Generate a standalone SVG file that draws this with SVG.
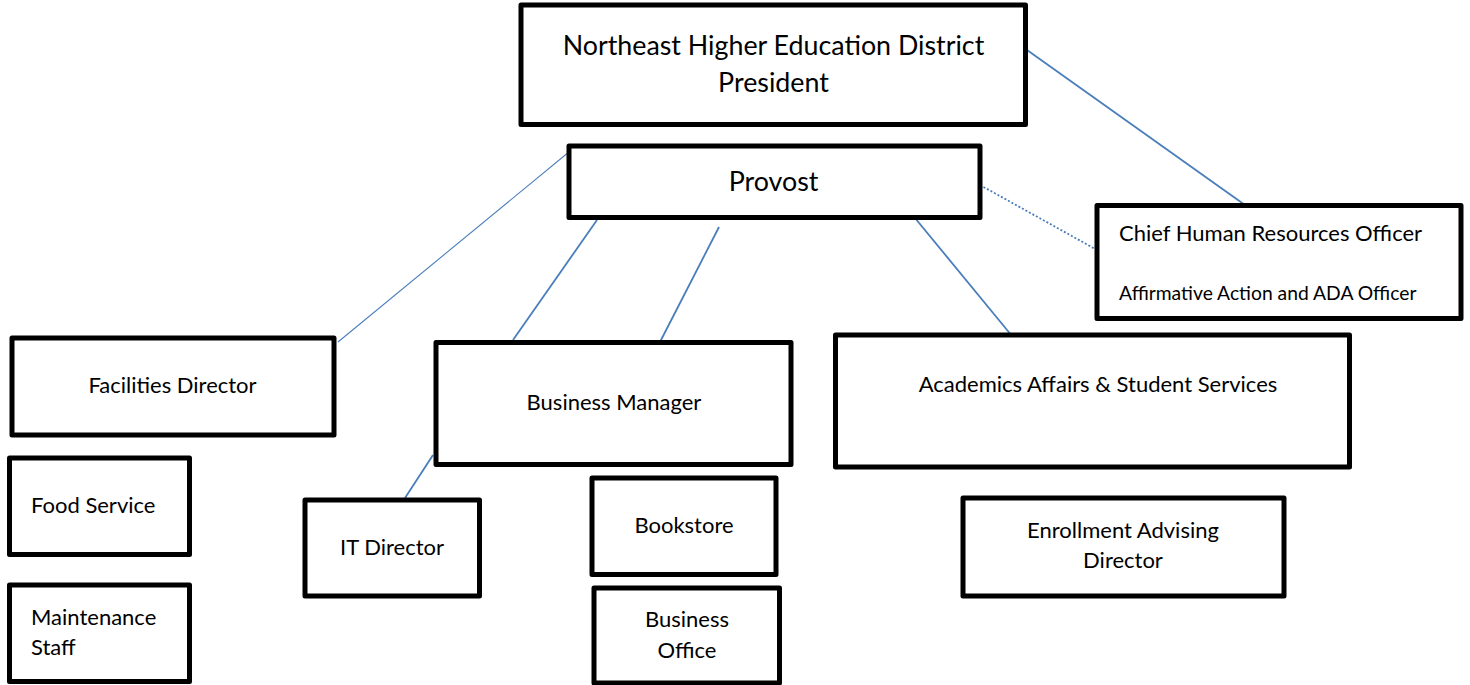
<svg xmlns="http://www.w3.org/2000/svg" width="1470" height="685" viewBox="0 0 1470 685">
<style>
.box{fill:#fff;stroke:#000;stroke-width:5;stroke-linejoin:round}
text{font-family:Lato,"Liberation Sans",sans-serif;fill:#000}
.c{text-anchor:middle}
.t20{font-size:22px}
.t24{font-size:26.8px}
.t17{font-size:19.3px}
.ln{stroke:#4a7ebb;stroke-width:1.8;fill:none}
.thin{stroke:#4a7ebb;stroke-width:1.1;fill:none}
.dot{stroke:#4a7ebb;stroke-width:1.8;fill:none;stroke-dasharray:2 2}
</style>
<rect width="1470" height="685" fill="#fff"/>
<g id="connectors">
<line class="ln" x1="1027" y1="50" x2="1252" y2="210"/>
<line class="dot" x1="980" y1="185" x2="1097" y2="250"/>
<line class="thin" x1="575" y1="147" x2="338" y2="342"/>
<line class="ln" x1="597" y1="220" x2="513" y2="340"/>
<line class="ln" x1="719" y1="227" x2="660" y2="342"/>
<line class="ln" x1="915" y1="218" x2="1012" y2="336"/>
<line class="ln" x1="433" y1="455" x2="405" y2="498"/>
</g>
<g id="president">
<rect class="box" x="521" y="5" width="504.5" height="119.5"/>
<text class="c t24" x="773.5" y="55">Northeast Higher Education District</text>
<text class="c t24" x="773.5" y="92">President</text>
</g>
<g id="provost">
<rect class="box" x="569" y="146" width="411" height="71.5"/>
<text class="c t24" x="773.5" y="191">Provost</text>
</g>
<g id="chro">
<rect class="box" x="1097" y="205.5" width="364" height="113"/>
<text class="t20" x="1119" y="241">Chief Human Resources Officer</text>
<text class="t17" x="1119" y="300">Affirmative Action and ADA Officer</text>
</g>
<g id="facilities">
<rect class="box" x="12" y="338" width="322" height="97"/>
<text class="c t20" x="172.5" y="393">Facilities Director</text>
</g>
<g id="business-manager">
<rect class="box" x="436" y="342.5" width="355" height="122"/>
<text class="c t20" x="614" y="410">Business Manager</text>
</g>
<g id="academics">
<rect class="box" x="835.5" y="335" width="514" height="132"/>
<text class="c t20" x="1098" y="392">Academics Affairs &amp; Student Services</text>
</g>
<g id="food-service">
<rect class="box" x="9.5" y="458" width="180" height="96.5"/>
<text class="t20" x="31" y="513">Food Service</text>
</g>
<g id="maintenance">
<rect class="box" x="9.5" y="585" width="180" height="96.5"/>
<text class="t20" x="31" y="625">Maintenance</text>
<text class="t20" x="31" y="655">Staff</text>
</g>
<g id="it-director">
<rect class="box" x="305" y="500" width="174.5" height="96"/>
<text class="c t20" x="392" y="555">IT Director</text>
</g>
<g id="bookstore">
<rect class="box" x="592" y="478" width="184" height="96.5"/>
<text class="c t20" x="684" y="533">Bookstore</text>
</g>
<g id="business-office">
<rect class="box" x="594" y="588" width="185.5" height="95"/>
<text class="c t20" x="687" y="627">Business</text>
<text class="c t20" x="687" y="658">Office</text>
</g>
<g id="enrollment">
<rect class="box" x="963" y="498" width="321" height="98"/>
<text class="c t20" x="1123" y="538">Enrollment Advising</text>
<text class="c t20" x="1123" y="568">Director</text>
</g>
</svg>
